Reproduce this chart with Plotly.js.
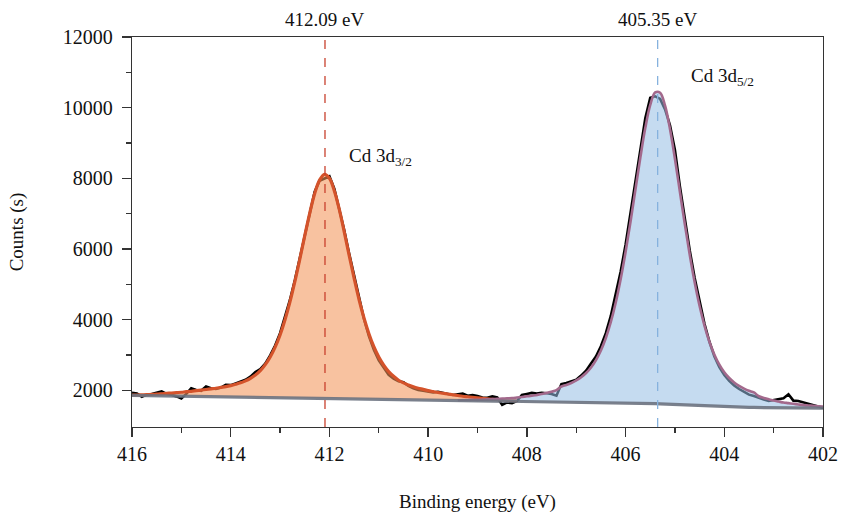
<!DOCTYPE html>
<html>
<head>
<meta charset="utf-8">
<script src="https://cdn.plot.ly/plotly-3.0.1.min.js"></script>
<style>html,body{margin:0;padding:0;background:#fff;}#chart{width:843px;height:515px;}</style>
</head>
<body>
<div id="chart"></div>
<script>
// Binding energy grid: 416.0 -> 402.0 eV in 0.1 eV steps (141 points)
const energy = [
416.0,
415.9,415.8,415.7,415.6,415.5,415.4,415.3,415.2,415.1,415.0,
414.9,414.8,414.7,414.6,414.5,414.4,414.3,414.2,414.1,414.0,
413.9,413.8,413.7,413.6,413.5,413.4,413.3,413.2,413.1,413.0,
412.9,412.8,412.7,412.6,412.5,412.4,412.3,412.2,412.1,412.0,
411.9,411.8,411.7,411.6,411.5,411.4,411.3,411.2,411.1,411.0,
410.9,410.8,410.7,410.6,410.5,410.4,410.3,410.2,410.1,410.0,
409.9,409.8,409.7,409.6,409.5,409.4,409.3,409.2,409.1,409.0,
408.9,408.8,408.7,408.6,408.5,408.4,408.3,408.2,408.1,408.0,
407.9,407.8,407.7,407.6,407.5,407.4,407.3,407.2,407.1,407.0,
406.9,406.8,406.7,406.6,406.5,406.4,406.3,406.2,406.1,406.0,
405.9,405.8,405.7,405.6,405.5,405.4,405.3,405.2,405.1,405.0,
404.9,404.8,404.7,404.6,404.5,404.4,404.3,404.2,404.1,404.0,
403.9,403.8,403.7,403.6,403.5,403.4,403.3,403.2,403.1,403.0,
402.9,402.8,402.7,402.6,402.5,402.4,402.3,402.2,402.1,402.0];

// Measured spectrum (black)
const rawCounts = [
1930,
1915,1820,1880,1900,1930,1975,1900,1880,1830,1770,
1900,2060,2010,1990,2110,2060,2040,2080,2160,2150,
2200,2260,2300,2390,2520,2600,2760,2990,3270,3620,
4060,4560,5120,5760,6420,7050,7620,7930,7990,8060,
7700,7150,6530,5870,5240,4600,4020,3540,3150,2850,
2640,2440,2330,2260,2230,2130,2060,2010,1990,1970,
1940,1960,1920,1900,1870,1890,1910,1850,1870,1840,
1800,1790,1830,1800,1590,1660,1640,1700,1870,1900,
1930,1910,1930,1920,1900,1850,2180,2210,2260,2300,
2420,2560,2760,2960,3250,3620,4100,4700,5360,6120,
7000,7950,8780,9700,10280,10320,10250,9950,9500,8800,
7780,6850,5960,5180,4480,3880,3370,2960,2660,2440,
2270,2140,2040,1960,1880,1840,1780,1740,1700,1720,
1740,1780,1890,1710,1700,1660,1640,1580,1560,1510];

// Shirley background (grey)
const background = [
1860,
1858,1856,1854,1852,1850,1848,1846,1844,1842,1840,
1838,1836,1834,1832,1830,1828,1826,1824,1822,1820,
1818,1815,1813,1810,1808,1805,1803,1800,1798,1795,
1793,1790,1788,1785,1783,1780,1778,1775,1773,1770,
1768,1766,1764,1762,1760,1758,1756,1754,1752,1750,
1749,1747,1746,1744,1743,1741,1740,1738,1737,1735,
1733,1731,1729,1727,1725,1723,1721,1719,1717,1715,
1713,1712,1710,1709,1707,1706,1704,1703,1701,1700,
1698,1696,1694,1692,1690,1688,1686,1684,1682,1680,
1678,1676,1674,1672,1670,1667,1664,1661,1658,1655,
1651,1647,1643,1639,1635,1628,1621,1614,1607,1600,
1593,1586,1579,1572,1565,1560,1555,1550,1545,1540,
1536,1532,1528,1524,1520,1518,1516,1514,1512,1510,
1509,1508,1507,1506,1505,1504,1503,1502,1501,1500];

// Cd 3d3/2 fitted component, 416.0 -> 408.2 eV (first 79 grid points)
const fit3d32 = [
1866,
1871,1875,1879,1890,1894,1905,1916,1926,1937,1948,
1965,1975,1993,2010,2027,2044,2061,2084,2107,2137,
2173,2214,2269,2343,2436,2559,2729,2948,3225,3570,
3999,4504,5085,5716,6380,7011,7566,7950,8113,8002,
7645,7123,6487,5820,5177,4573,4051,3605,3236,2942,
2713,2533,2399,2289,2212,2153,2101,2061,2029,1995,
1968,1940,1919,1898,1877,1856,1835,1820,1806,1791,
1776,1763,1748,1741,1732,1725,1717,1709];

// Cd 3d5/2 fitted component, 409.4 -> 402.0 eV (last 75 grid points)
const fit3d52 = [
1723,1730,1728,1735,1733,
1740,1747,1754,1762,1769,1777,1784,1800,1816,1833,
1848,1873,1898,1931,1964,2007,2110,2155,2211,2281,
2373,2492,2649,2857,3131,3484,3930,4483,5146,5915,
6772,7684,8597,9430,10077,10431,10424,10056,9398,8554,
7630,6707,5839,5060,4387,3826,3372,3011,2730,2515,
2352,2227,2129,2053,1991,1942,1835,1788,1751,1714,
1686,1658,1640,1621,1602,1584,1574,1564,1554,1544];

const peakPositions = [412.09, 405.35];
const peakLabels = ['412.09 eV', '405.35 eV'];
const componentNames = ['Cd 3d<sub>3/2</sub>', 'Cd 3d<sub>5/2</sub>'];
const componentLabelPos = [[411.65, 8600], [404.72, 10870]];
const xTicks = [416, 414, 412, 410, 408, 406, 404, 402];
const xTickLabels = ['416', '414', '412', '410', '408', '406', '404', '402'];
const yTicks = [2000, 4000, 6000, 8000, 10000, 12000];
const yTickLabels = ['2000', '4000', '6000', '8000', '10000', '12000'];
const yMinorTicks = [3000, 5000, 7000, 9000, 11000];

const n1 = fit3d32.length;
const start2 = energy.length - fit3d52.length;
const e1 = energy.slice(0, n1), b1 = background.slice(0, n1);
const e2 = energy.slice(start2), b2 = background.slice(start2);

const FONT = 'Liberation Serif, Times New Roman, serif';
const FS = 20;

const traces = [
  {x: energy, y: rawCounts, mode: 'lines', line: {color: '#000000', width: 2.6}, hoverinfo: 'skip'},
  {x: e1, y: b1, mode: 'lines', line: {width: 0, color: 'rgba(0,0,0,0)'}, hoverinfo: 'skip'},
  {x: e1, y: fit3d32, mode: 'lines', fill: 'tonexty', fillcolor: 'rgba(243,150,92,0.58)',
   line: {color: '#d4532b', width: 3.2, shape: 'spline'}, hoverinfo: 'skip'},
  {x: e2, y: b2, mode: 'lines', line: {width: 0, color: 'rgba(0,0,0,0)'}, hoverinfo: 'skip'},
  {x: e2, y: fit3d52, mode: 'lines', fill: 'tonexty', fillcolor: 'rgba(150,190,228,0.55)',
   line: {color: '#a3698c', width: 2.6, shape: 'spline'}, hoverinfo: 'skip'},
  {x: energy, y: background, mode: 'lines', line: {color: '#6b7280', width: 3.2}, opacity: 0.9, hoverinfo: 'skip'}
];

const lineColors = ['#c8412e', '#86b2de'];
const shapes = peakPositions.map((p, i) => ({
  type: 'line', xref: 'x', yref: 'paper', x0: p, x1: p, y0: 0, y1: 1,
  line: {color: lineColors[i], width: 1.3, dash: 'dash'}, layer: 'above'
}));

const annotations = peakPositions.map((p, i) => ({
  x: p, xref: 'x', y: 1, yref: 'paper', yanchor: 'bottom', yshift: 5,
  text: peakLabels[i], showarrow: false, font: {family: FONT, size: FS - 1, color: '#111'}
})).concat(componentNames.map((t, i) => ({
  x: componentLabelPos[i][0], y: componentLabelPos[i][1], xref: 'x', yref: 'y',
  xanchor: 'left', yanchor: 'middle', text: t, showarrow: false,
  font: {family: FONT, size: FS - 1, color: '#111'}
})));

const layout = {
  width: 843, height: 515,
  margin: {l: 132, r: 20, t: 37, b: 88},
  paper_bgcolor: '#ffffff', plot_bgcolor: '#ffffff',
  showlegend: false,
  font: {family: FONT, size: FS, color: '#111'},
  xaxis: {
    range: [416, 402], tickmode: 'array', tickvals: xTicks, ticktext: xTickLabels,
    ticks: 'outside', ticklen: 9, tickwidth: 1.3,
    tickcolor: '#333', showline: true, linecolor: '#333', linewidth: 1.3, mirror: true,
    showgrid: false, zeroline: false,
    minor: {dtick: 1, ticks: 'outside', ticklen: 5, tickwidth: 1.3, tickcolor: '#333', showgrid: false},
    tickfont: {family: FONT, size: FS, color: '#111'},
    title: {text: 'Binding energy (eV)', standoff: 30, font: {family: FONT, size: FS - 1, color: '#111'}}
  },
  yaxis: {
    range: [965, 12000], tickmode: 'array', tickvals: yTicks, ticktext: yTickLabels,
    ticks: 'outside', ticklen: 9, tickwidth: 1.3,
    tickcolor: '#333', showline: true, linecolor: '#333', linewidth: 1.3, mirror: true,
    showgrid: false, zeroline: false, ticklabelstandoff: 5,
    minor: {tickvals: yMinorTicks, ticks: 'outside', ticklen: 5, tickwidth: 1.3, tickcolor: '#333', showgrid: false},
    tickfont: {family: FONT, size: FS, color: '#111'},
    title: {text: 'Counts (s)', standoff: 34, font: {family: FONT, size: FS - 1, color: '#111'}}
  },
  shapes: shapes,
  annotations: annotations
};

Plotly.newPlot('chart', traces, layout, {displayModeBar: false, staticPlot: true});
</script>
</body>
</html>
